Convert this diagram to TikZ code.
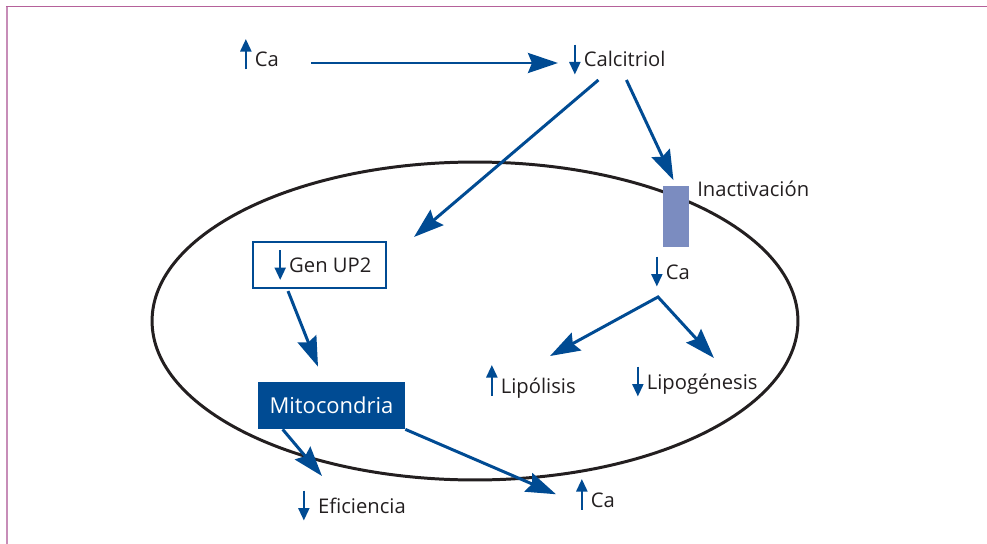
\documentclass[tikz,border=0pt]{standalone}
\usepackage{fontspec}
\setmainfont{Open Sans}
\usetikzlibrary{positioning, arrows.meta, calc}
\definecolor{figblue}{HTML}{004B93}
\definecolor{figbar}{HTML}{7B8CC0}
\definecolor{figink}{HTML}{231F20}
\definecolor{figframe}{HTML}{B5619A}
\definecolor{figframelt}{HTML}{C78DB8}

\tikzset{
  smallarr/.style={draw=figblue, line width=1.3pt, line cap=butt,
                   -{Triangle[length=0.25cm, width=0.22cm]}}
}
% small up / down marks in front of the labels
\newcommand{\upmark}{\tikz[x=1cm,y=1cm,baseline=0pt]\draw[smallarr] (0,-0.05) -- (0,0.56);\kern2pt}
\newcommand{\dnmark}{\tikz[x=1cm,y=1cm,baseline=0pt]\draw[smallarr] (0,0.45) -- (0,-0.15);\kern2pt}

\begin{document}
\begin{tikzpicture}[
  x=0.02cm, y=-0.02cm,
  line join=miter,
  bigarr/.style  = {draw=figblue, line width=1.7pt,
                    -{Stealth[length=0.6cm, width=0.4cm, inset=0.08cm]}},
  forkarr/.style = {draw=figblue, line width=1.7pt,
                    {Stealth[length=0.6cm, width=0.4cm, inset=0.08cm]}-{Stealth[length=0.6cm, width=0.4cm, inset=0.08cm]}},
  lbl/.style     = {font=\fontsize{11.5}{14}\selectfont, text=figink,
                    inner sep=0pt, anchor=base west},
  genbox/.style  = {draw=figblue, line width=1.2pt, fill=white,
                    minimum width=2.66cm, minimum height=0.92cm, inner sep=0pt,
                    font=\fontsize{11.5}{14}\selectfont, text=figink},
  mitobox/.style = {fill=figblue, minimum width=2.94cm, minimum height=0.94cm,
                    inner sep=0pt, font=\fontsize{12.5}{15}\selectfont, text=white},
  inactbar/.style= {fill=figbar, minimum width=0.52cm, minimum height=1.22cm,
                    inner sep=0pt}
]
\useasboundingbox (0,0) rectangle (987,544);

% marco
\draw[figframelt, line width=1.3pt] (7,544) -- (7,6.5);
\draw[figframe, line width=1.1pt] (6.2,6.5) -- (987,6.5);

% celula
\draw[figink, line width=1.7pt] (475,321) ellipse [x radius=6.46cm, y radius=3.18cm];

% nodos
\node[lbl] (catop)  at (240,67)  {\upmark Ca};
\node[lbl] (calc)   at (569,67)  {\dnmark Calcitriol};
\node[inactbar] (inact) at (676,216.5) {};
\node[lbl] (inactlbl) at (697,196) {Inactivación};
\node[lbl] (camid)  at (651,279) {\dnmark Ca};
\node[lbl] (lipo)   at (486,393) {\upmark Lipólisis};
\node[lbl] (lipog)  at (632,389) {\dnmark Lipogénesis};
\node[genbox] (gen) at (319.5,265) {\hspace{4pt}\dnmark Gen UP2};
\node[mitobox] (mito) at (331.5,405.5) {Mitocondria};
\node[lbl] (efic)   at (298,513) {\dnmark\kern3pt Eficiencia};
\node[lbl] (cabot)  at (576,507) {\upmark Ca};
\coordinate (fork) at ([shift={(0.14cm,-0.18cm)}]camid.south west);

% flechas
\draw[bigarr, shorten <=0.64cm, shorten >=0.22cm]
  ([yshift=0.08cm]catop.base east) -- ([yshift=0.08cm]calc.base west);
\draw[bigarr] ([shift={(-0.38cm,-0.08cm)}]calc.south) -- ([shift={(0.54cm,0.08cm)}]gen.north east);
\draw[bigarr, shorten >=0.12cm] ([shift={(0.18cm,-0.08cm)}]calc.south) -- (inact.north);
\draw[forkarr] ([shift={(0.38cm,0.15cm)}]lipo.north) -- (fork) -- ([shift={(0.38cm,0.14cm)}]lipog.north);
\draw[bigarr] ([shift={(-0.63cm,-0.04cm)}]gen.south) -- ([shift={(-0.27cm,0.3cm)}]mito.north);
\draw[bigarr] ([xshift=0.5cm]mito.south west) -- ([shift={(0.48cm,0.26cm)}]efic.north west);
\draw[bigarr] (mito.south east) -- ([xshift=-0.4cm]cabot.west);

\end{tikzpicture}
\end{document}
